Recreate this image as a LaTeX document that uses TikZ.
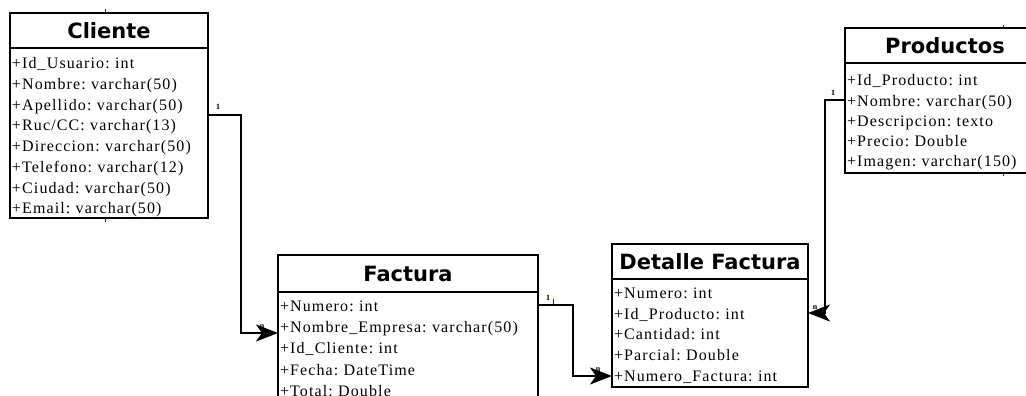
\documentclass[tikz,border=0pt]{standalone}
\usepackage{fontspec}
\setmainfont{Liberation Serif}[LetterSpace=7]
\newfontfamily\titlefont{DejaVu Sans}
\frenchspacing
\usetikzlibrary{arrows.meta}
\newcommand{\topst}[1]{\rule{0pt}{#1pt}}
\begin{document}
\begin{tikzpicture}[x=1pt,y=-1pt,outer sep=0pt,
  ttl/.style={draw,line width=2.6pt,anchor=north west,inner sep=0pt,
    font=\titlefont\bfseries\fontsize{21}{24}\selectfont},
  body/.style={draw,line width=2.6pt,anchor=north west,inner xsep=2pt,inner ysep=0pt,align=left,
    font=\fontsize{16}{20.7}\selectfont},
  conn/.style={line width=2.6pt,-{Stealth[length=22pt,width=17pt,inset=6pt]}},
  lbl/.style={font=\fontsize{8}{9}\selectfont\bfseries,inner sep=0pt},
  tick/.style={draw=violet!70!blue,line width=1pt}]
\clip (0,0) rectangle (1026,396);
\useasboundingbox (0,0) rectangle (1026,396);
% Cliente
\node[ttl,minimum width=198,minimum height=35] (cliT) at (10,13) {Cliente};
\node[body,text width=194,minimum height=170] (cliB) at (cliT.south west)
 {\topst{20}+Id\_Usuario: int\\+Nombre: varchar(50)\\+Apellido: varchar(50)\\+Ruc/CC: varchar(13)\\+Direccion: varchar(50)\\+Telefono: varchar(12)\\+Ciudad: varchar(50)\\+Email: varchar(50)};
% Factura
\node[ttl,minimum width=260,minimum height=37] (facT) at (278,255) {Factura};
\node[body,text width=256,minimum height=107,font=\fontsize{16}{21.3}\selectfont] (facB) at (facT.south west)
 {\topst{17}+Numero: int\\+Nombre\_Empresa: varchar(50)\\+Id\_Cliente: int\\+Fecha: DateTime\\+Total: Double};
% Detalle Factura
\node[ttl,minimum width=196,minimum height=35] (detT) at (612,244) {Detalle Factura};
\node[body,text width=192,minimum height=108] (detB) at (detT.south west)
 {\topst{16}+Numero: int\\+Id\_Producto: int\\+Cantidad: int\\+Parcial: Double\\+Numero\_Factura: int};
% Productos
\node[ttl,minimum width=200,minimum height=35] (proT) at (845,28) {Productos};
\node[body,text width=196,minimum height=110,font=\fontsize{16}{20.2}\selectfont] (proB) at (proT.south west)
 {\topst{20}+Id\_Producto: int\\+Nombre: varchar(50)\\+Descripcion: texto\\+Precio: Double\\+Imagen: varchar(150)};
% connectors
\draw[conn] (cliB.east |- 0,115) -- (241,115) |- (facB.west |- 0,333);
\draw[conn] (facB.east |- 0,305) -- (573,305) |- (detB.west |- 0,376);
\draw[conn] (proB.west |- 0,100) -- (825,100) |- (detB.east |- 0,313);
% multiplicities
\node[lbl] (m1) at (218,107) {1};
\node[lbl] (m2) at (262,327) {n};
\node[lbl] (m3) at (548,298) {1};
\node[lbl] (m4) at (598,370) {n};
\node[lbl] (m5) at (833,93) {1};
\node[lbl] (m6) at (815,308) {n};
% small marks
\draw[tick] (105,9) -- (105,13);
\draw[tick] (105,218) -- (105,222);
\draw[tick] (1003,25) -- (1003,28);
\draw[tick] (1003,173) -- (1003,176);
\draw[tick] (553,299) -- (553,304);
\end{tikzpicture}
\end{document}
